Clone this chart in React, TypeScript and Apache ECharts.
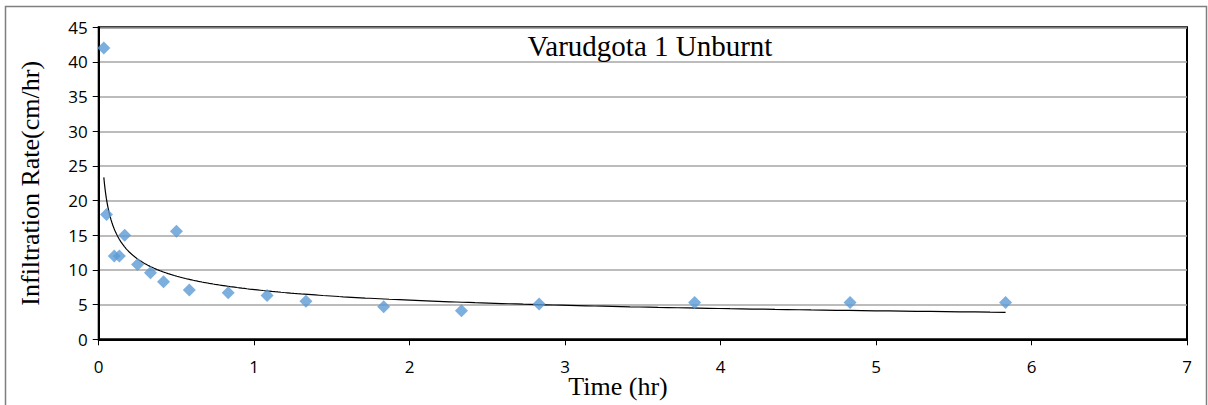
import React, { useEffect, useRef } from "react";
import * as echarts from "echarts";

const timeHr = [0.033, 0.05, 0.1, 0.133, 0.167, 0.25, 0.333, 0.417, 0.5, 0.583, 0.833, 1.083, 1.333, 1.833, 2.333, 2.833, 3.833, 4.833, 5.833];
const rateCmHr = [42.0, 18.0, 12.0, 12.0, 15.0, 10.8, 9.6, 8.3, 15.6, 7.1, 6.7, 6.3, 5.5, 4.7, 4.1, 5.1, 5.3, 5.3, 5.3];
const xTicks = [0, 1, 2, 3, 4, 5, 6, 7];
const yTicks = [0, 5, 10, 15, 20, 25, 30, 35, 40, 45];
const chartTitle = "Varudgota 1 Unburnt";
const xTitle = "Time (hr)";
const yTitle = "Infiltration Rate(cm/hr)";

// Power trendline (least squares on logs), as a spreadsheet trendline does
function powerFit(xs: number[], ys: number[]) {
  const n = xs.length;
  let sx = 0, sy = 0, sxx = 0, sxy = 0;
  for (let i = 0; i < n; i++) {
    const lx = Math.log(xs[i]);
    const ly = Math.log(ys[i]);
    sx += lx; sy += ly; sxx += lx * lx; sxy += lx * ly;
  }
  const b = (n * sxy - sx * sy) / (n * sxx - sx * sx);
  const lnA = (sy - b * sx) / n;
  return { a: Math.exp(lnA), b };
}

export default function App() {
  const ref = useRef<HTMLDivElement>(null);
  useEffect(() => {
    if (!ref.current) return;
    const chart = echarts.init(ref.current, undefined, { renderer: "svg" });
    const fit = powerFit(timeHr, rateCmHr);
    const xMin = Math.min(...timeHr);
    const xMax = Math.max(...timeHr);
    const trend: number[][] = [];
    const steps = 300;
    for (let i = 0; i <= steps; i++) {
      const x = xMin * Math.pow(xMax / xMin, i / steps);
      trend.push([x, fit.a * Math.pow(x, fit.b)]);
    }
    const points = timeHr.map((t, i) => [t, rateCmHr[i]]);
    const tickFont = "'Open Sans', 'Noto Sans', sans-serif";
    const serif = "'Liberation Serif', 'DejaVu Serif', serif";
    chart.setOption({
      animation: false,
      backgroundColor: "#ffffff",
      grid: {
        left: 98.7,
        right: 21,
        top: 27.3,
        bottom: 65.7,
        show: true,
        borderColor: "#000000",
        borderWidth: 2,
        containLabel: false,
      },
      xAxis: {
        type: "value",
        min: xTicks[0],
        max: xTicks[xTicks.length - 1],
        interval: 1,
        splitLine: { show: false },
        axisLine: { show: true, onZero: false, lineStyle: { color: "#000", width: 2 } },
        axisTick: { show: true, inside: false, length: 6, lineStyle: { color: "#000", width: 1 } },
        axisLabel: { color: "#000", fontSize: 17, fontFamily: tickFont, margin: 19 },
      },
      yAxis: {
        type: "value",
        min: yTicks[0],
        max: yTicks[yTicks.length - 1],
        interval: 5,
        name: yTitle,
        nameLocation: "middle",
        nameGap: 55,
        nameTextStyle: { color: "#000", fontSize: 26, fontFamily: serif },
        splitLine: { show: true, lineStyle: { color: "#a6a6a6", width: 1.5 } },
        axisLine: { show: true, lineStyle: { color: "#000", width: 2 } },
        axisTick: { show: true, inside: false, length: 6, lineStyle: { color: "#000", width: 1 } },
        axisLabel: { color: "#000", fontSize: 17, fontFamily: tickFont, margin: 11 },
      },
      graphic: [
        {
          type: "rect",
          silent: true,
          shape: { x: 5.5, y: 6.5, width: 1201, height: 430 },
          style: { fill: "none", stroke: "#7f7f7f", lineWidth: 1.5 },
          z: 100,
        },
        {
          type: "text",
          x: 650,
          y: 46,
          silent: true,
          style: {
            text: chartTitle,
            font: `29px ${serif}`,
            fill: "#000",
            textAlign: "center",
            textVerticalAlign: "middle",
          },
          z: 100,
        },
        {
          type: "text",
          x: 618,
          y: 386,
          silent: true,
          style: {
            text: xTitle,
            font: `26px ${serif}`,
            fill: "#000",
            textAlign: "center",
            textVerticalAlign: "middle",
          },
          z: 100,
        },
      ],
      series: [
        {
          type: "line",
          data: trend,
          showSymbol: false,
          symbol: "none",
          smooth: false,
          lineStyle: { color: "#000", width: 1.2 },
          z: 2,
        },
        {
          type: "scatter",
          data: points,
          symbol: "diamond",
          symbolSize: 13,
          itemStyle: { color: "#5B9BD5" },
          z: 3,
        },
      ],
    });
    return () => chart.dispose();
  }, []);
  return (
    <div
      ref={ref}
      style={{ position: "fixed", left: 0, top: 0, width: 1208, height: 405 }}
    />
  );
}
